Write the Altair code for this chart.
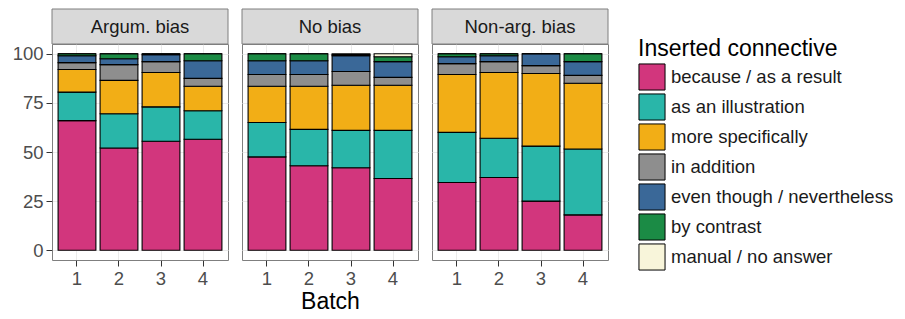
import altair as alt
import pandas as pd

panels = ["Argum. bias", "No bias", "Non-arg. bias"]
batches = [1, 2, 3, 4]
connectives = [
    "because / as a result",
    "as an illustration",
    "more specifically",
    "in addition",
    "even though / nevertheless",
    "by contrast",
    "manual / no answer",
]
colors = ["#D2367D", "#29B6A9", "#F2AE16", "#8E8E8E", "#3A6898", "#1B8B45", "#F8F5DA"]

# percentage of each connective (in the order above), one list per batch
argum_bias = [
    [66.0, 14.5, 11.5, 3.5, 3.5, 1.0, 0.0],
    [52.0, 17.5, 17.0, 8.0, 3.0, 2.5, 0.0],
    [55.5, 17.5, 17.5, 5.5, 3.5, 0.5, 0.0],
    [56.5, 14.5, 12.5, 4.0, 9.0, 3.5, 0.0],
]
no_bias = [
    [47.5, 17.5, 18.5, 6.0, 7.0, 3.5, 0.0],
    [43.0, 18.5, 22.0, 6.0, 7.0, 3.5, 0.0],
    [42.0, 19.0, 23.0, 7.0, 8.0, 0.5, 0.5],
    [36.5, 24.5, 23.0, 4.0, 8.0, 2.5, 1.5],
]
non_arg_bias = [
    [34.5, 25.5, 29.5, 5.5, 3.5, 1.5, 0.0],
    [37.0, 20.0, 33.5, 5.5, 3.0, 1.0, 0.0],
    [25.0, 28.0, 37.0, 4.0, 6.0, 0.0, 0.0],
    [18.0, 33.5, 33.5, 4.0, 7.0, 4.0, 0.0],
]
y_ticks = [0, 25, 50, 75, 100]

series = {panels[0]: argum_bias, panels[1]: no_bias, panels[2]: non_arg_bias}
rows = []
for p in panels:
    for b, vals in zip(batches, series[p]):
        for k, (c, v) in enumerate(zip(connectives, vals)):
            rows.append({"panel": p, "batch": b, "connective": c, "order": k, "value": v})
df = pd.DataFrame(rows)

FONT = "Liberation Sans"
PW, PH = 176, 216
STRIP = 35

color_enc = alt.Color(
    "connective:N",
    scale=alt.Scale(domain=connectives, range=colors),
    legend=alt.Legend(
        title="Inserted connective",
        orient="none",
        legendX=586,
        legendY=-6,
        symbolType="square",
        symbolSize=680,
        symbolStrokeColor="black",
        symbolStrokeWidth=1,
        symbolOpacity=1,
        labelFontSize=18.5,
        labelColor="#1A1A1A",
        labelFont=FONT,
        labelOffset=5,
        labelLimit=400,
        titleFontSize=23,
        titleFontWeight="normal",
        titleColor="#000000",
        titleFont=FONT,
        titlePadding=2,
        titleLimit=400,
        rowPadding=-3,
        padding=0,
    ),
)


def panel_chart(i, name):
    sub = df[df.panel == name]
    first = i == 0
    bars = alt.Chart(sub).mark_bar(stroke="black", strokeWidth=1.1).encode(
        x=alt.X(
            "batch:O",
            scale=alt.Scale(paddingInner=0.1, paddingOuter=0.145),
            axis=alt.Axis(
                title="Batch" if i == 1 else None,
                labelAngle=0,
                bandPosition=0.5,
                grid=True,
                gridColor="#EBEBEB",
                domain=False,
                tickSize=6,
                tickColor="#333333",
                labelFontSize=18.5,
                labelColor="#4D4D4D",
                labelPadding=3,
                titleFontSize=23,
                titleFontWeight="normal",
                titleColor="#000000",
                titlePadding=3,
            ),
        ),
        y=alt.Y(
            "value:Q",
            stack="zero",
            scale=alt.Scale(domain=[-5, 105], nice=False, zero=False),
            axis=alt.Axis(
                values=y_ticks,
                title=None,
                labels=first,
                ticks=first,
                domain=False,
                grid=True,
                gridColor="#EBEBEB",
                tickSize=6,
                tickColor="#333333",
                labelFontSize=18.5,
                labelColor="#4D4D4D",
                labelPadding=3,
            ),
        ),
        color=color_enc,
        order=alt.Order("order:Q"),
    )
    strip_df = pd.DataFrame({"panel": [name]})
    strip = alt.Chart(strip_df).mark_rect(
        fill="#D9D9D9", stroke="#7F7F7F", strokeWidth=1
    ).encode(
        x=alt.value(0), x2=alt.value(PW), y=alt.value(-STRIP), y2=alt.value(0)
    )
    label = alt.Chart(strip_df).mark_text(
        fontSize=18.5, color="#1A1A1A", font=FONT, baseline="middle", align="center"
    ).encode(x=alt.value(PW / 2), y=alt.value(-STRIP / 2), text="panel:N")
    return alt.layer(bars, strip, label).properties(width=PW, height=PH)


chart = (
    alt.hconcat(*[panel_chart(i, p) for i, p in enumerate(panels)], spacing=12)
    .resolve_scale(color="shared")
    .properties(padding={"left": 3, "top": 0, "right": 0, "bottom": 0})
    .configure(font=FONT)
    .configure_view(stroke="#7F7F7F", strokeWidth=1)
)

chart.save("out.html", embed_options={"renderer": "svg", "actions": False})
